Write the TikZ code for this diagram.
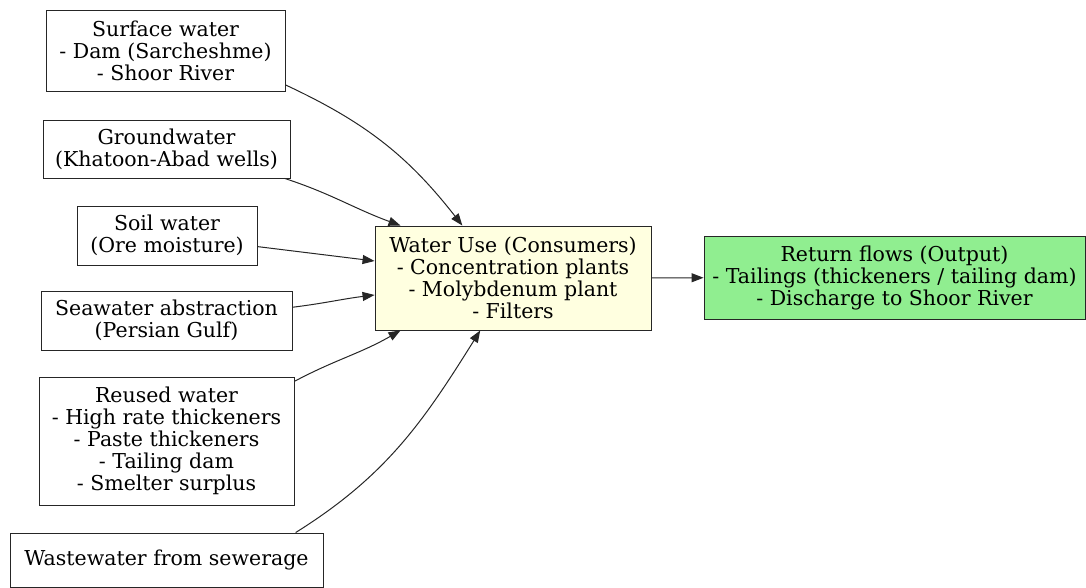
\documentclass[tikz,border=0pt]{standalone}
\usepackage{fontspec}
\setmainfont{DejaVu Serif}
\usetikzlibrary{arrows.meta}
\tikzset{
  srcbox/.style={draw=black!85, line width=0.9pt, align=center, inner sep=2pt,
    font=\fontsize{20.5}{22}\selectfont},
  usebox/.style={srcbox, fill={rgb,255:red,255;green,255;blue,224}},
  outbox/.style={srcbox, fill={rgb,255:red,144;green,238;blue,144}},
  flow/.style={draw=black!85, line width=1pt, -{Triangle[length=12pt,width=9pt]}}
}
\begin{document}
\begin{tikzpicture}[x=1pt,y=1pt]
  \useasboundingbox (0,0) rectangle (1086,588);

  % sources
  \node[srcbox, minimum width=239pt, minimum height=81pt] (surface) at (165.5,537.5)
    {Surface water\\- Dam (Sarcheshme)\\- Shoor River};
  \node[srcbox, minimum width=247pt, minimum height=58pt] (ground) at (166.5,439)
    {Groundwater\\(Khatoon-Abad wells)};
  \node[srcbox, minimum width=180pt, minimum height=59pt] (soil) at (167,352.5)
    {Soil water\\(Ore moisture)};
  \node[srcbox, minimum width=251pt, minimum height=59pt] (sea) at (166.5,267.5)
    {Seawater abstraction\\(Persian Gulf)};
  \node[srcbox, minimum width=255pt, minimum height=128pt] (reused) at (166.5,147)
    {Reused water\\- High rate thickeners\\- Paste thickeners\\- Tailing dam\\- Smelter surplus};
  \node[srcbox, minimum width=313pt, minimum height=54pt] (waste) at (166.5,28)
    {Wastewater from sewerage};

  % consumers and output
  \node[usebox, minimum width=276pt, minimum height=104pt] (use) at (513,310)
    {Water Use (Consumers)\\- Concentration plants\\- Molybdenum plant\\- Filters};
  \node[outbox, minimum width=381pt, minimum height=83pt] (return) at (894.5,310.5)
    {Return flows (Output)\\- Tailings (thickeners / tailing dam)\\- Discharge to Shoor River};

  % connections
  \foreach \a/\b/\o/\i in {
    surface.-16/use.134/-25/128,
    ground.-14/use.155/-18/160,
    soil.-7/use.173/-7/173,
    sea.6/use.187/7/187,
    reused.25/use.205/28/210,
    waste.12/use.238/32/238%
  } { \draw[flow] (\a) to[out=\o,in=\i] (\b); }
  \draw[flow] (use) -- (return);
\end{tikzpicture}
\end{document}
